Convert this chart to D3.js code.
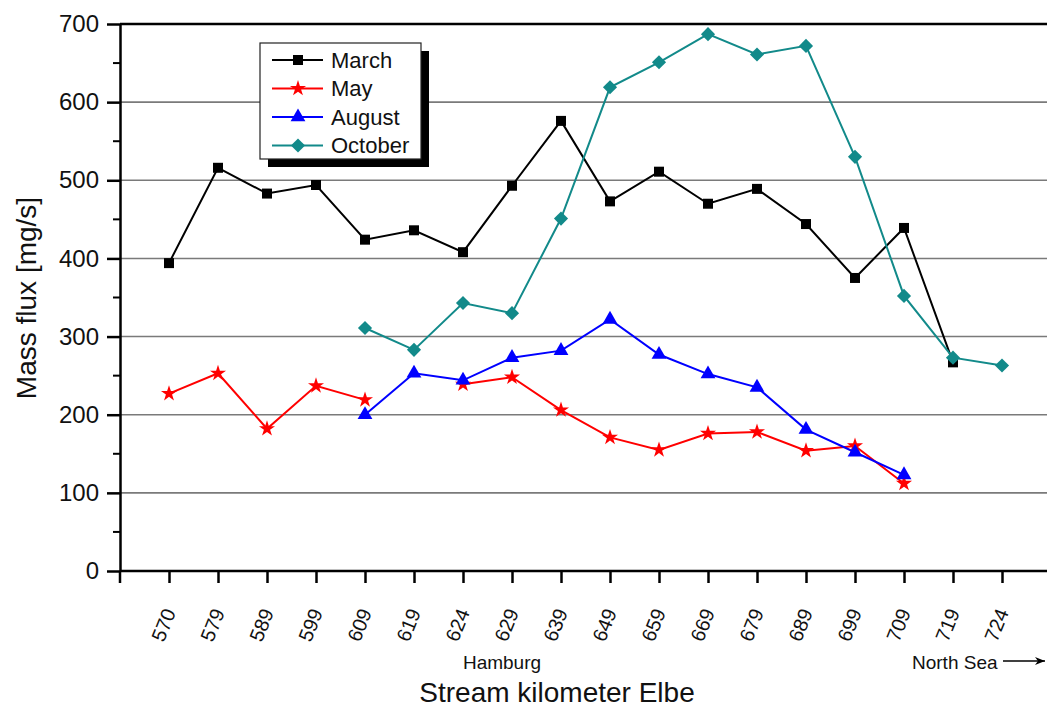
<!doctype html>
<html>
<head>
<meta charset="utf-8">
<script src="https://d3js.org/d3.v7.min.js"></script>
<style>
  body { margin: 0; background: #fff; }
  svg text { font-family: "Liberation Sans", Arial, sans-serif; fill: #111; }
</style>
</head>
<body>
<script>
// stream kilometres (categories on the x axis)
var km = ["570","579","589","599","609","619","624","629","639","649","659","669","679","689","699","709","719","724"];

// mass flux [mg/s], null = not measured
var march   = [394, 516, 483, 494, 424, 436, 408, 493, 576, 473, 511, 470, 489, 444, 375, 439, 267, null];
var may     = [227, 253, 182, 237, 219, null, 239, 248, 206, 171, 155, 176, 178, 154, 160, 112, null, null];
var august  = [null, null, null, null, 200, 253, 244, 273, 282, 322, 277, 252, 235, 181, 152, 123, null, null];
var october = [null, null, null, null, 311, 283, 343, 330, 451, 619, 651, 687, 661, 672, 530, 352, 273, 263];

var yTicks = [0, 100, 200, 300, 400, 500, 600, 700];
var yMinor = [50, 150, 250, 350, 450, 550, 650];

var W = 1047, H = 709;
var plotLeft = 120, plotTop = 24, plotBottom = 571, plotRight = 1047;

var svg = d3.select("body").append("svg")
  .attr("width", W).attr("height", H);

var x = d3.scalePoint().domain(km).range([plotLeft, 1051]).padding(1);
var y = d3.scaleLinear().domain([0, 700]).range([plotBottom, plotTop]);

// grid lines
svg.append("g").selectAll("line")
  .data(yTicks.filter(function(d){ return d > 0 && d < 700; }))
  .enter().append("line")
  .attr("x1", plotLeft).attr("x2", plotRight)
  .attr("y1", function(d){ return y(d); })
  .attr("y2", function(d){ return y(d); })
  .style("stroke", "#7a7a7a").style("stroke-width", 1.6);

// top frame
svg.append("line")
  .attr("x1", plotLeft).attr("x2", plotRight)
  .attr("y1", y(700)).attr("y2", y(700))
  .style("stroke", "#000").style("stroke-width", 2.5);

// y axis
var yAxis = svg.append("g")
  .attr("transform", "translate(" + plotLeft + ",0)")
  .call(d3.axisLeft(y).tickValues(yTicks).tickSize(13).tickSizeOuter(0).tickPadding(8));
yAxis.selectAll("text").style("font-size", "24px");
yAxis.selectAll("line").style("stroke-width", 2.5);
yAxis.select(".domain").style("stroke-width", 2.5);

svg.append("g").selectAll("line")
  .data(yMinor).enter().append("line")
  .attr("x1", plotLeft - 7).attr("x2", plotLeft)
  .attr("y1", function(d){ return y(d); })
  .attr("y2", function(d){ return y(d); })
  .style("stroke", "#000").style("stroke-width", 2);

// x axis
var xAxis = svg.append("g")
  .attr("transform", "translate(0," + plotBottom + ")")
  .call(d3.axisBottom(x).tickSize(12).tickSizeOuter(0));
xAxis.select(".domain").attr("d", "M" + plotLeft + ",0H" + plotRight).style("stroke-width", 2.5);
xAxis.selectAll("line").style("stroke-width", 2.5);
xAxis.append("line")
  .attr("x1", plotLeft).attr("x2", plotLeft).attr("y1", 0).attr("y2", 12)
  .style("stroke", "#000").style("stroke-width", 2.5);
xAxis.selectAll(".tick text")
  .attr("y", 0)
  .attr("text-anchor", "middle")
  .attr("transform", "translate(-6,54) rotate(-68)")
  .attr("dy", "0.35em")
  .style("font-size", "20px");

// series
var series = [
  { name: "March",   values: march,   color: "#000000", symbol: d3.symbolSquare,   size: 100, rot: 0 },
  { name: "May",     values: may,     color: "#ff0000", symbol: d3.symbolStar,     size: 80,  rot: 0 },
  { name: "August",  values: august,  color: "#0000ff", symbol: d3.symbolTriangle, size: 95,  rot: 0 },
  { name: "October", values: october, color: "#128a8a", symbol: d3.symbolSquare,   size: 100, rot: 45 }
];

var line = d3.line()
  .defined(function(d){ return d != null; })
  .x(function(d, i){ return x(km[i]); })
  .y(function(d){ return y(d); });

series.forEach(function(s){
  svg.append("path")
    .datum(s.values)
    .attr("d", line)
    .style("fill", "none")
    .style("stroke", s.color)
    .style("stroke-width", 2);

  svg.append("g").selectAll("path")
    .data(s.values.map(function(v, i){ return { k: km[i], v: v }; })
      .filter(function(d){ return d.v != null; }))
    .enter().append("path")
    .attr("d", d3.symbol().type(s.symbol).size(s.size))
    .attr("transform", function(d){
      return "translate(" + x(d.k) + "," + y(d.v) + ") rotate(" + s.rot + ")";
    })
    .style("fill", s.color);
});

// legend
var lg = svg.append("g");
lg.append("rect")
  .attr("x", 268).attr("y", 51).attr("width", 161).attr("height", 116)
  .style("fill", "#000");
lg.append("rect")
  .attr("x", 260).attr("y", 43).attr("width", 161).attr("height", 116)
  .style("fill", "#fff").style("stroke", "#222").style("stroke-width", 1.2);

series.forEach(function(s, i){
  var ly = 60 + i * 28.5;
  lg.append("line")
    .attr("x1", 272).attr("x2", 323).attr("y1", ly).attr("y2", ly)
    .style("stroke", s.color).style("stroke-width", 2);
  lg.append("path")
    .attr("d", d3.symbol().type(s.symbol).size(s.size)())
    .attr("transform", "translate(298," + ly + ") rotate(" + s.rot + ")")
    .style("fill", s.color);
  lg.append("text")
    .attr("x", 331).attr("y", ly).attr("dy", "0.36em")
    .style("font-size", "22px")
    .text(s.name);
});

// axis titles and notes
svg.append("text")
  .attr("transform", "translate(36,298) rotate(-90)")
  .attr("text-anchor", "middle")
  .style("font-size", "28px")
  .text("Mass flux [mg/s]");

svg.append("text")
  .attr("x", 557).attr("y", 702)
  .attr("text-anchor", "middle")
  .style("font-size", "28px")
  .text("Stream kilometer Elbe");

svg.append("text")
  .attr("x", 502).attr("y", 669)
  .attr("text-anchor", "middle")
  .style("font-size", "19px")
  .text("Hamburg");

svg.append("text")
  .attr("x", 912).attr("y", 669)
  .style("font-size", "19px")
  .text("North Sea");

svg.append("defs").append("marker")
  .attr("id", "arr").attr("viewBox", "0 0 10 10")
  .attr("refX", 10).attr("refY", 5)
  .attr("markerWidth", 10).attr("markerHeight", 10)
  .attr("markerUnits", "userSpaceOnUse")
  .attr("orient", "auto")
  .append("path").attr("d", "M0,1L10,5L0,9L3,5Z").style("fill", "#000");

svg.append("line")
  .attr("x1", 1003).attr("x2", 1045).attr("y1", 661).attr("y2", 661)
  .style("stroke", "#000").style("stroke-width", 1.3)
  .attr("marker-end", "url(#arr)");
</script>
</body>
</html>
